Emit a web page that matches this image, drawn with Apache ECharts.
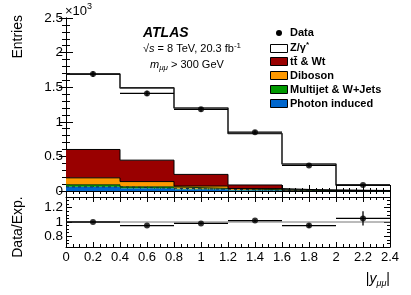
<!DOCTYPE html>
<html><head><meta charset="utf-8">
<script src="https://cdn.jsdelivr.net/npm/echarts@6/dist/echarts.min.js"></script>
<style>html,body{margin:0;padding:0;background:#fff}#c{width:411px;height:295px}</style>
</head><body><div id="c"></div>
<script>
const binEdges = [0, 0.4, 0.8, 1.2, 1.6, 2.0, 2.4];
const photonInduced = [0.060, 0.040, 0.025, 0.012, 0.004, 0.002];
const multijetWJets = [0.030, 0.020, 0.012, 0.006, 0.002, 0.001];
const diboson      = [0.100, 0.076, 0.035, 0.017, 0.004, 0.002];
const ttbarWt      = [0.410, 0.310, 0.168, 0.052, 0.005, 0.002];
const zGamma       = [1.090, 1.044, 0.960, 0.743, 0.375, 0.076];
const dataValues   = [1.69, 1.41, 1.18, 0.85, 0.37, 0.087];
const dataErrors   = [0.041, 0.038, 0.034, 0.029, 0.019, 0.009];
const ratioValues  = [1.00, 0.95, 0.98, 1.02, 0.95, 1.05];
const ratioErrors  = [0.012, 0.013, 0.014, 0.02, 0.03, 0.10];
const ratioTickValues = [0.8, 1, 1.2];
const ratioMinorValues = [0.7, 0.75, 0.85, 0.9, 0.95, 1.05, 1.1, 1.15, 1.25, 1.3];

const FONT = 'Liberation Sans';
const compColors = ['#0066cc', '#009900', '#ff9900', '#990000'];
const components = [photonInduced, multijetWJets, diboson, ttbarWt, zGamma];

const cumLevels = [];
let running = [0,0,0,0,0,0];
components.forEach(c => { running = running.map((v,i)=>v+c[i]); cumLevels.push(running.slice()); });

const centers = binEdges.slice(0,6).map((e,i)=> (e+binEdges[i+1])/2);
const stackRows = centers.map((c,i)=>[binEdges[i], binEdges[i+1], photonInduced[i], multijetWJets[i], diboson[i], ttbarWt[i]]);
const stepData = lv => binEdges.slice(0,6).map((e,i)=>[e, lv[i]]).concat([[binEdges[6], lv[5]]]);

const chart = echarts.init(document.getElementById('c'), null, {renderer:'canvas'});
const axLine = {show:true, lineStyle:{color:'#000', width:1}};
function xAx(grid, pos, labels, major, minor){
  return {gridIndex:grid, type:'value', position:pos, min:0, max:2.4, interval:0.2,
    axisLine:axLine, splitLine:{show:false},
    axisTick:{show:true, inside:true, length:major, lineStyle:{color:'#000'}},
    minorTick:{show:true, splitNumber:4, length:minor, lineStyle:{color:'#000'}},
    axisLabel:{show:labels, color:'#000', fontFamily:FONT, fontSize:13, margin:4}};
}
const option = {
  animation:false,
  backgroundColor:'#fff',
  grid:[{left:66, top:18, width:324, height:173}, {left:66, top:197, width:324, height:50}],
  xAxis:[xAx(0,'bottom',false,6,3), xAx(0,'top',false,6,3), xAx(1,'bottom',true,5,3), xAx(1,'top',false,5,3)],
  yAxis:[
    {gridIndex:0, type:'value', position:'left', min:0, max:2.5, interval:0.5, axisLine:axLine, splitLine:{show:false},
     axisTick:{inside:true, length:7, lineStyle:{color:'#000'}}, minorTick:{show:true, splitNumber:5, length:4, lineStyle:{color:'#000'}},
     axisLabel:{color:'#000', fontFamily:FONT, fontSize:13.5, margin:3}},
    {gridIndex:0, type:'value', position:'right', min:0, max:2.5, interval:0.5, axisLine:axLine, splitLine:{show:false},
     axisTick:{inside:true, length:7, lineStyle:{color:'#000'}}, minorTick:{show:true, splitNumber:5, length:4, lineStyle:{color:'#000'}},
     axisLabel:{show:false}},
    {gridIndex:1, type:'value', position:'left', min:0.65, max:1.35, axisLine:axLine, splitLine:{show:false},
     axisTick:{inside:true, length:6, customValues:ratioTickValues, lineStyle:{color:'#000'}},
     axisLabel:{color:'#000', fontFamily:FONT, fontSize:13.5, margin:3, customValues:ratioTickValues}},
    {gridIndex:1, type:'value', position:'left', min:0.65, max:1.35, axisLine:{show:false}, splitLine:{show:false},
     axisTick:{inside:true, length:3, customValues:ratioMinorValues, lineStyle:{color:'#000'}},
     axisLabel:{show:false}},
    {gridIndex:1, type:'value', position:'right', min:0.65, max:1.35, axisLine:axLine, splitLine:{show:false},
     axisTick:{inside:true, length:6, customValues:ratioTickValues, lineStyle:{color:'#000'}},
     axisLabel:{show:false}},
    {gridIndex:1, type:'value', position:'right', min:0.65, max:1.35, axisLine:{show:false}, splitLine:{show:false},
     axisTick:{inside:true, length:3, customValues:ratioMinorValues, lineStyle:{color:'#000'}},
     axisLabel:{show:false}}
  ],
  series:[
    {type:'custom', xAxisIndex:0, yAxisIndex:0, silent:true, clip:true, z:1,
     data:stackRows, encode:{x:[0,1], y:[2]},
     renderItem:function(params, api){
       const x0=api.value(0), x1=api.value(1);
       let base=0; const children=[];
       for(let k=0;k<4;k++){
         const top=base+api.value(2+k);
         const p0=api.coord([x0, top]), p1=api.coord([x1, base]);
         children.push({type:'rect', shape:{x:p0[0], y:p0[1], width:p1[0]-p0[0], height:p1[1]-p0[1]}, style:{fill:compColors[k]}});
         base=top;
       }
       return {type:'group', children};
     }},
    {type:'line', xAxisIndex:0, yAxisIndex:0, step:'end', symbol:'none', silent:true, z:2, data:stepData(cumLevels[0]), lineStyle:{color:'#0a2a55', width:1, type:[3,3]}},
    {type:'line', xAxisIndex:0, yAxisIndex:0, step:'end', symbol:'none', silent:true, z:2, data:stepData(cumLevels[1]), lineStyle:{color:'#0b3b0b', width:1}},
    {type:'line', xAxisIndex:0, yAxisIndex:0, step:'end', symbol:'none', silent:true, z:2, data:stepData(cumLevels[2]), lineStyle:{color:'#000', width:1}},
    {type:'line', xAxisIndex:0, yAxisIndex:0, step:'end', symbol:'none', silent:true, z:2, data:stepData(cumLevels[3]), lineStyle:{color:'#000', width:1}},
    {type:'line', xAxisIndex:0, yAxisIndex:0, step:'end', symbol:'none', silent:true, z:2, data:stepData(cumLevels[4]), lineStyle:{color:'#222', width:1.6}},
    {type:'custom', xAxisIndex:0, yAxisIndex:0, silent:true, z:3,
     data:dataValues.map((v,i)=>[binEdges[i], binEdges[i+1], v, dataErrors[i]]), encode:{x:[0,1], y:[2]},
     renderItem:function(params, api){
       const x0=api.value(0), x1=api.value(1), y=api.value(2), e=api.value(3), xc=(x0+x1)/2;
       const a=api.coord([x0,y]), b=api.coord([x1,y]), c=api.coord([xc,y-e]), d=api.coord([xc,y+e]);
       return {type:'group', children:[
         {type:'line', shape:{x1:a[0], y1:a[1], x2:b[0], y2:b[1]}, style:{stroke:'#000', lineWidth:1.3}},
         {type:'line', shape:{x1:c[0], y1:c[1], x2:d[0], y2:d[1]}, style:{stroke:'#000', lineWidth:1.3}}]};
     }},
    {type:'scatter', xAxisIndex:0, yAxisIndex:0, silent:true, z:4, symbol:'circle', symbolSize:6,
     itemStyle:{color:'#000'}, data:centers.map((c,i)=>[c, dataValues[i]])},
    {type:'line', xAxisIndex:2, yAxisIndex:2, symbol:'none', silent:true, z:1, data:[[0,1],[2.4,1]], lineStyle:{color:'#777', width:1}},
    {type:'custom', xAxisIndex:2, yAxisIndex:2, silent:true, z:3,
     data:ratioValues.map((v,i)=>[binEdges[i], binEdges[i+1], v, ratioErrors[i]]), encode:{x:[0,1], y:[2]},
     renderItem:function(params, api){
       const x0=api.value(0), x1=api.value(1), y=api.value(2), e=api.value(3), xc=(x0+x1)/2;
       const a=api.coord([x0,y]), b=api.coord([x1,y]), c=api.coord([xc,y-e]), d=api.coord([xc,y+e]);
       return {type:'group', children:[
         {type:'line', shape:{x1:a[0], y1:a[1], x2:b[0], y2:b[1]}, style:{stroke:'#000', lineWidth:1.3}},
         {type:'line', shape:{x1:c[0], y1:c[1], x2:d[0], y2:d[1]}, style:{stroke:'#000', lineWidth:1.3}}]};
     }},
    {type:'scatter', xAxisIndex:2, yAxisIndex:2, silent:true, z:4, symbol:'circle', symbolSize:6,
     itemStyle:{color:'#000'}, data:centers.map((c,i)=>[c, ratioValues[i]])}
  ],
  graphic:[
    {type:'text', x:18, y:15, rotation:Math.PI/2, style:{text:'Entries', font:'14px "Liberation Sans"', fill:'#000', align:'right', verticalAlign:'middle'}},
    {type:'text', x:18, y:227, rotation:Math.PI/2, style:{text:'Data/Exp.', font:'14px "Liberation Sans"', fill:'#000', align:'center', verticalAlign:'middle'}},
    {type:'text', x:65, y:11, style:{text:'×10{s|3}', font:'13px "Liberation Sans"', fill:'#000', align:'left', verticalAlign:'middle',
      rich:{s:{fontSize:9, fontFamily:FONT, verticalAlign:'top', padding:[0,0,9,0]}}}},
    {type:'text', x:390, y:279, style:{text:'|{i|y}{s|μμ}|', font:'14px "Liberation Sans"', fill:'#000', align:'right', verticalAlign:'middle',
      rich:{i:{fontSize:14, fontStyle:'italic', fontFamily:FONT}, s:{fontSize:9, fontStyle:'italic', fontFamily:FONT, padding:[9,0,0,0]}}}},
    {type:'text', x:143, y:33, style:{text:'ATLAS', font:'italic bold 14px "Liberation Sans"', fill:'#000', align:'left', verticalAlign:'middle'}},
    {type:'text', x:143, y:49, style:{text:'√{i|s} = 8 TeV, 20.3 fb{s|-1}', font:'11px "Liberation Sans"', fill:'#000', align:'left', verticalAlign:'middle',
      rich:{i:{fontSize:11, fontStyle:'italic', fontFamily:FONT}, s:{fontSize:8, fontFamily:FONT, padding:[0,0,7,0]}}}},
    {type:'text', x:150, y:65, style:{text:'{i|m}{s|μμ} > 300 GeV', font:'11px "Liberation Sans"', fill:'#000', align:'left', verticalAlign:'middle',
      rich:{i:{fontSize:11, fontStyle:'italic', fontFamily:FONT}, s:{fontSize:8, fontStyle:'italic', fontFamily:FONT, padding:[6,0,0,0]}}}},
    {type:'circle', shape:{cx:279, cy:33, r:3}, style:{fill:'#000'}},
    {type:'text', x:290, y:33, style:{text:'Data', font:'bold 11px "Liberation Sans"', fill:'#000', align:'left', verticalAlign:'middle'}},
    {type:'rect', shape:{x:270.5, y:44.5, width:17, height:8}, style:{fill:'#fff', stroke:'#000', lineWidth:1}},
    {type:'text', x:290, y:48, style:{text:'Z/γ{s|*}', font:'bold 11px "Liberation Sans"', fill:'#000', align:'left', verticalAlign:'middle',
      rich:{s:{fontSize:8, fontWeight:'bold', fontFamily:FONT, padding:[0,0,6,0]}}}},
    {type:'rect', shape:{x:270.5, y:57.5, width:17, height:8}, style:{fill:'#990000', stroke:'#000', lineWidth:1}},
    {type:'text', x:290, y:62, style:{text:'tt\u0304 & Wt', font:'bold 11px "Liberation Sans"', fill:'#000', align:'left', verticalAlign:'middle'}},
    {type:'rect', shape:{x:270.5, y:71.5, width:17, height:8}, style:{fill:'#ff9900', stroke:'#000', lineWidth:1}},
    {type:'text', x:290, y:76, style:{text:'Diboson', font:'bold 11px "Liberation Sans"', fill:'#000', align:'left', verticalAlign:'middle'}},
    {type:'rect', shape:{x:270.5, y:85.5, width:17, height:8}, style:{fill:'#009900', stroke:'#000', lineWidth:1}},
    {type:'text', x:290, y:90, style:{text:'Multijet & W+Jets', font:'bold 11px "Liberation Sans"', fill:'#000', align:'left', verticalAlign:'middle'}},
    {type:'rect', shape:{x:270.5, y:99.5, width:17, height:8}, style:{fill:'#0066cc', stroke:'#000', lineWidth:1}},
    {type:'text', x:290, y:104, style:{text:'Photon induced', font:'bold 11px "Liberation Sans"', fill:'#000', align:'left', verticalAlign:'middle'}}
  ]
};
chart.setOption(option);
</script></body></html>
